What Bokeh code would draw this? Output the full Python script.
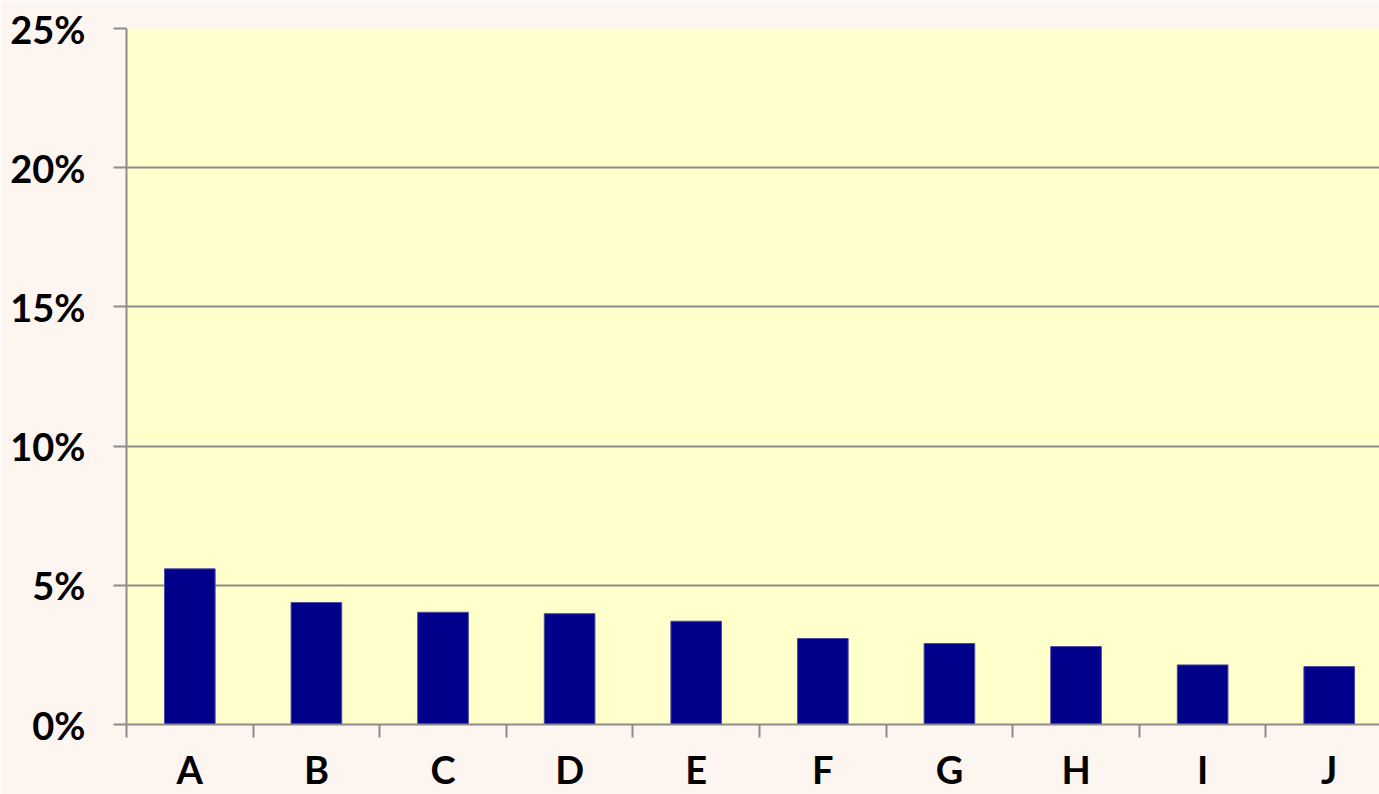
from bokeh.plotting import figure
from bokeh.models import Range1d, FixedTicker, PrintfTickFormatter, ColumnDataSource
from bokeh.embed import file_html
from bokeh.resources import INLINE

categories = ["A", "B", "C", "D", "E", "F", "G", "H", "I", "J"]
shares = [5.59, 4.38, 4.03, 3.98, 3.71, 3.09, 2.91, 2.80, 2.14, 2.08]
y_ticks = [0, 5, 10, 15, 20, 25]

x_pos = [i + 0.5 for i in range(len(categories))]
boundaries = list(range(len(categories) + 1))

GRAY = "#8C8C8C"
FONT = "Lato"

p = figure(width=1379, height=794, output_backend="svg", toolbar_location=None,
           x_range=Range1d(0, 9.897), y_range=Range1d(0, 25),
           min_border_left=126, min_border_right=0, min_border_top=28, min_border_bottom=70,
           background_fill_color="#FFFFCC", border_fill_color="#FDF5F0",
           outline_line_color=None)

src = ColumnDataSource(dict(x=x_pos, top=shares))
p.vbar(x="x", top="top", bottom=0, width=0.4, source=src,
       fill_color="#00008B", line_color="#4A4A9E", line_width=1)

# x axis: labels at category centres, tick marks at category boundaries
p.xaxis.ticker = FixedTicker(ticks=x_pos, minor_ticks=boundaries)
p.xaxis.major_label_overrides = {x: c for x, c in zip(x_pos, categories)}
p.xaxis.major_tick_line_color = None
p.xaxis.major_tick_out = 0
p.xaxis.major_tick_in = 0
p.xaxis.minor_tick_out = 13
p.xaxis.minor_tick_in = 0
p.xaxis.minor_tick_line_color = GRAY
p.xaxis.minor_tick_line_width = 2
p.xaxis.axis_line_color = GRAY
p.xaxis.axis_line_width = 2
p.xaxis.major_label_standoff = 8
p.xaxis.major_label_text_font = FONT
p.xaxis.major_label_text_font_style = "bold"
p.xaxis.major_label_text_font_size = "38px"
p.xaxis.major_label_text_color = "#000000"

# y axis
p.yaxis.ticker = FixedTicker(ticks=y_ticks)
p.yaxis.formatter = PrintfTickFormatter(format="%d%%")
p.yaxis.major_tick_out = 13
p.yaxis.major_tick_in = 0
p.yaxis.major_tick_line_color = GRAY
p.yaxis.major_tick_line_width = 2
p.yaxis.minor_tick_line_color = None
p.yaxis.axis_line_color = GRAY
p.yaxis.axis_line_width = 2
p.yaxis.major_label_standoff = 28
p.yaxis.major_label_text_font = FONT
p.yaxis.major_label_text_font_style = "bold"
p.yaxis.major_label_text_font_size = "38px"
p.yaxis.major_label_text_color = "#000000"

p.xgrid.grid_line_color = None
p.ygrid.ticker = FixedTicker(ticks=y_ticks)
p.ygrid.grid_line_color = GRAY
p.ygrid.grid_line_width = 2

open("out.html", "w").write(file_html(p, INLINE))
